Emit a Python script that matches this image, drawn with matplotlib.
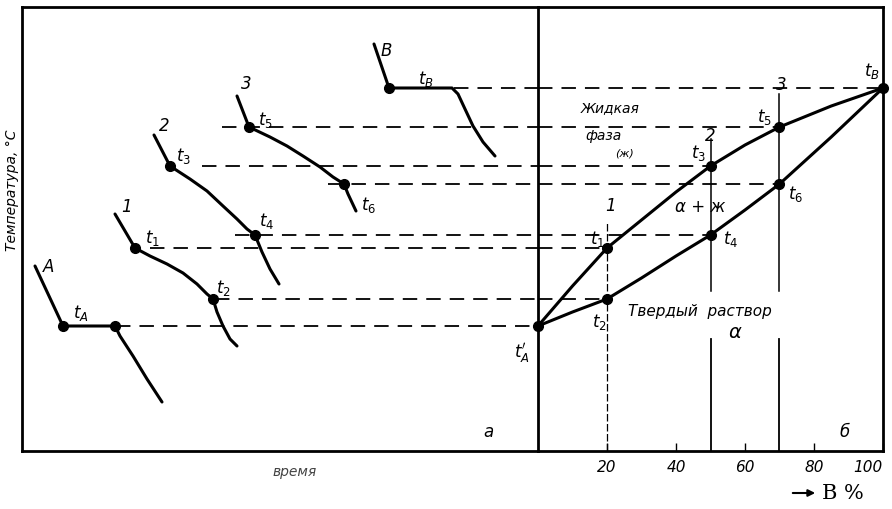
import matplotlib.pyplot as plt
from matplotlib.patches import FancyArrowPatch

# temperature levels (arbitrary units, 0 = bottom of frame)
T_A, T_2, T_1, T_4, T_6, T_3, T_5, T_B = 125, 152, 203, 216, 267, 285, 324, 363

# cooling curves (time, temperature)
curve_A_time = [13, 41, 93, 98, 111, 125, 140]
curve_A_temp = [185, T_A, T_A, 115, 95, 72, 49]
curve_1_time = [93, 113, 128, 145, 161, 175, 185, 191, 195, 201, 208, 215]
curve_1_temp = [237, T_1, 195, 187, 178, 167, 157, T_2, 139, 125, 112, 105]
curve_2_time = [132, 148, 168, 185, 201, 215, 225, 233, 240, 248, 257]
curve_2_temp = [316, T_3, 272, 260, 245, 232, 222, T_4, 199, 182, 167]
curve_3_time = [215, 227, 248, 265, 281, 298, 311, 322, 326, 334]
curve_3_temp = [355, T_5, 314, 305, 295, 284, 274, T_6, 257, 240]
curve_B_time = [352, 367, 430, 436, 443, 451, 461, 473]
curve_B_temp = [407, T_B, T_B, 357, 342, 325, 309, 295]

# critical points on the cooling curves
dots_time = [41, 93, 113, 191, 148, 233, 227, 322, 367]
dots_temp = [T_A, T_A, T_1, T_2, T_3, T_4, T_5, T_6, T_B]

# projection lines: start on the time axis, end on the composition axis
proj_start = [432, 200, 180, 306, 213, 128, 193, 94]
proj_temp = [T_B, T_5, T_3, T_6, T_4, T_1, T_2, T_A]
proj_comp = [100, 70, 50, 70, 50, 20, 20, 0]

# phase diagram (B %, temperature)
liq_comp = [0, 10, 20, 30, 40, 50, 60, 70, 85, 100]
liq_temp = [T_A, 165, T_1, 231, 259, T_3, 306, T_5, 345, T_B]
sol_comp = [0, 10, 20, 30, 40, 50, 60, 70, 85, 100]
sol_temp = [T_A, 139, T_2, 173, 195, T_4, 241, T_6, 314, T_B]
pt_comp = [0, 20, 50, 70, 20, 50, 70, 100]
pt_temp = [T_A, T_1, T_3, T_5, T_2, T_4, T_6, T_B]
comp_ticks = [20, 40, 60, 80, 100]

TMAX = 444
fig = plt.figure(figsize=(8.92, 5.10), dpi=100)
axL = fig.add_axes([22 / 892, 58 / 510, 516 / 892, 444 / 510])
axR = fig.add_axes([538 / 892, 58 / 510, 345 / 892, 444 / 510])
axR.patch.set_visible(False)
axL.set_xlim(0, 516)
axR.set_xlim(0, 100)
for ax in (axL, axR):
    ax.set_ylim(0, TMAX)
    ax.set_yticks([])
    for s in ax.spines.values():
        s.set_linewidth(2)
axR.spines['left'].set_visible(False)
axL.set_xticks([])

dash = (0, (8, 5))
lw_curve = 2.2

# cooling curves
for t, T in [(curve_A_time, curve_A_temp), (curve_1_time, curve_1_temp),
             (curve_2_time, curve_2_temp), (curve_3_time, curve_3_temp),
             (curve_B_time, curve_B_temp)]:
    axL.plot(t, T, color='black', lw=lw_curve, solid_capstyle='round',
             solid_joinstyle='round')
axL.plot(dots_time, dots_temp, 'o', color='black', ms=7)

# projection lines
for s, T, c in zip(proj_start, proj_temp, proj_comp):
    axL.plot([s, 516], [T, T], color='black', lw=1.3, ls=dash)
    if c > 0:
        axR.plot([0, c], [T, T], color='black', lw=1.3, ls=dash)

# phase diagram
axR.plot(liq_comp, liq_temp, color='black', lw=lw_curve, solid_joinstyle='round')
axR.plot(sol_comp, sol_temp, color='black', lw=lw_curve, solid_joinstyle='round')
axR.plot(pt_comp, pt_temp, 'o', color='black', ms=7, clip_on=False, zorder=5)
axR.plot([20, 20], [0, 230], color='black', lw=0.9, ls=(0, (6, 2)))
axR.plot([50, 50], [160, 312], color='black', lw=1.1)
axR.plot([50, 50], [0, 112], color='black', lw=1.3)
axR.plot([70, 70], [160, 357], color='black', lw=1.1)
axR.plot([70, 70], [0, 112], color='black', lw=1.3)

axR.set_xticks(comp_ticks)
axR.set_xticklabels([str(v) for v in comp_ticks], fontsize=11, style='italic')
axR.get_xticklabels()[-1].set_ha('right')
axR.tick_params(axis='x', direction='in', length=6, width=1, pad=6)

# labels
tl = dict(fontsize=12, textcoords='offset pixels', ha='center', va='center')
axL.annotate('$t_A$', (41, T_A), xytext=(18, 14), **tl)
axL.annotate('$t_1$', (113, T_1), xytext=(17, 11), **tl)
axL.annotate('$t_2$', (191, T_2), xytext=(10, 12), **tl)
axL.annotate('$t_3$', (148, T_3), xytext=(14, 11), **tl)
axL.annotate('$t_4$', (233, T_4), xytext=(12, 15), **tl)
axL.annotate('$t_5$', (227, T_5), xytext=(16, 8), **tl)
axL.annotate('$t_6$', (322, T_6), xytext=(25, -20), **tl)
axL.annotate('$t_B$', (367, T_B), xytext=(37, 10), **tl)
cl = dict(fontsize=12, style='italic', textcoords='offset pixels', ha='center', va='center')
axL.annotate('А', (curve_A_time[0], curve_A_temp[0]), xytext=(14, 0), **cl)
axL.annotate('1', (curve_1_time[0], curve_1_temp[0]), xytext=(12, 8), **cl)
axL.annotate('2', (curve_2_time[0], curve_2_temp[0]), xytext=(10, 10), **cl)
axL.annotate('3', (curve_3_time[0], curve_3_temp[0]), xytext=(9, 13), **cl)
axL.annotate('В', (curve_B_time[0], curve_B_temp[0]), xytext=(12, -6), **cl)
axL.text(466, 20, 'а', fontsize=12, style='italic', ha='center', va='center')

axR.annotate('$t_B$', (100, T_B), xytext=(-11, 18), **tl)
axR.annotate('$t_5$', (70, T_5), xytext=(-15, 11), **tl)
axR.annotate('$t_3$', (50, T_3), xytext=(-12, 14), **tl)
axR.annotate('$t_6$', (70, T_6), xytext=(16, -9), **tl)
axR.annotate('$t_4$', (50, T_4), xytext=(20, -3), **tl)
axR.annotate('$t_1$', (20, T_1), xytext=(-10, 10), **tl)
axR.annotate('$t_2$', (20, T_2), xytext=(-8, -22), **tl)
axR.annotate("$t_A'$", (0, T_A), xytext=(-16, -26), **tl)
axR.annotate('1', (20, T_1), xytext=(4, 43), **cl)
axR.annotate('2', (50, T_3), xytext=(0, 31), **cl)
axR.annotate('3', (70, T_5), xytext=(2, 43), **cl)
axR.text(21, 344, 'Жидкая', fontsize=10, style='italic', ha='center', va='center')
axR.text(19, 316, 'фаза', fontsize=10, style='italic', ha='center', va='center')
axR.text(25, 298, '(ж)', fontsize=8, style='italic', ha='center', va='center')
axR.text(47, 245, 'α + ж', fontsize=12, style='italic', ha='center', va='center')
axR.text(47, 140, 'Твердый  раствор', fontsize=11, style='italic', ha='center', va='center')
axR.text(57, 119, 'α', fontsize=14, style='italic', ha='center', va='center')
axR.text(89, 20, 'б', fontsize=12, style='italic', ha='center', va='center')

fig.text(12 / 892, 1 - 190 / 510, 'Температура, °С', rotation=90, fontsize=10,
         style='italic', ha='center', va='center')
fig.text(295 / 892, 1 - 472 / 510, 'время', fontsize=10, style='italic',
         color='#444444', ha='center', va='center')
fig.text(822 / 892, 1 - 494 / 510, 'B %', fontsize=15, family='DejaVu Serif',
         ha='left', va='center')
fig.add_artist(FancyArrowPatch(
    (790 / 892, 1 - 494 / 510), (818 / 892, 1 - 494 / 510),
    transform=fig.transFigure, arrowstyle='-|>', mutation_scale=10,
    color='black', lw=1.5))

fig.savefig('out.png', dpi=100)
